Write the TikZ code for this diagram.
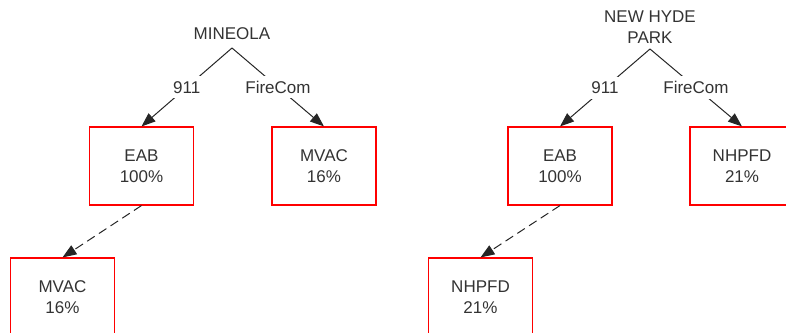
\documentclass[tikz,border=0pt]{standalone}
\usepackage{fontspec}
\setmainfont{Liberation Sans}
\usetikzlibrary{arrows.meta}
\begin{document}
\begin{tikzpicture}[x=1pt,y=-1pt,
  txt/.style={font=\fontsize{17}{21}\selectfont, text=black!80},
  unit/.style={txt, draw=red, line width=1.1pt, minimum width=104pt, minimum height=78pt, align=center, inner sep=0pt},
  place/.style={txt, align=center, inner sep=0pt},
  route/.style={draw=black!85, line width=1pt, -{Triangle[length=14pt,width=10.5pt]}},
  tag/.style={txt, fill=white, inner xsep=3pt, inner ysep=5pt},
  backup/.style={route, dash pattern=on 9pt off 5pt}]
\useasboundingbox (0,0) rectangle (786,332);
\clip (0,0) rectangle (786,332);

% Mineola
\node[place] (mineola) at (232,34) {MINEOLA};
\coordinate (mroot) at (232,48);
\node[unit] (meab)   at (141.5,166) {EAB\\100\%};
\node[unit] (mmvac)  at (324,166)   {MVAC\\16\%};
\node[unit] (mmvacb) at (62.5,297)  {MVAC\\16\%};
\draw[route] (mroot) -- node[tag] {911} (meab.north);
\draw[route] (mroot) -- node[tag] {FireCom} (mmvac.north);
\draw[backup] (meab.south) -- (mmvacb.north);

% New Hyde Park
\node[place] (nhp) at (650,27.5) {NEW HYDE\\PARK};
\coordinate (nroot) at (650,49);
\node[unit] (neab)    at (560,166)   {EAB\\100\%};
\node[unit] (nnhpfd)  at (742,166)   {NHPFD\\21\%};
\node[unit] (nnhpfdb) at (480.5,297) {NHPFD\\21\%};
\draw[route] (nroot) -- node[tag] {911} (neab.north);
\draw[route] (nroot) -- node[tag] {FireCom} (nnhpfd.north);
\draw[backup] (neab.south) -- (nnhpfdb.north);
\end{tikzpicture}
\end{document}
